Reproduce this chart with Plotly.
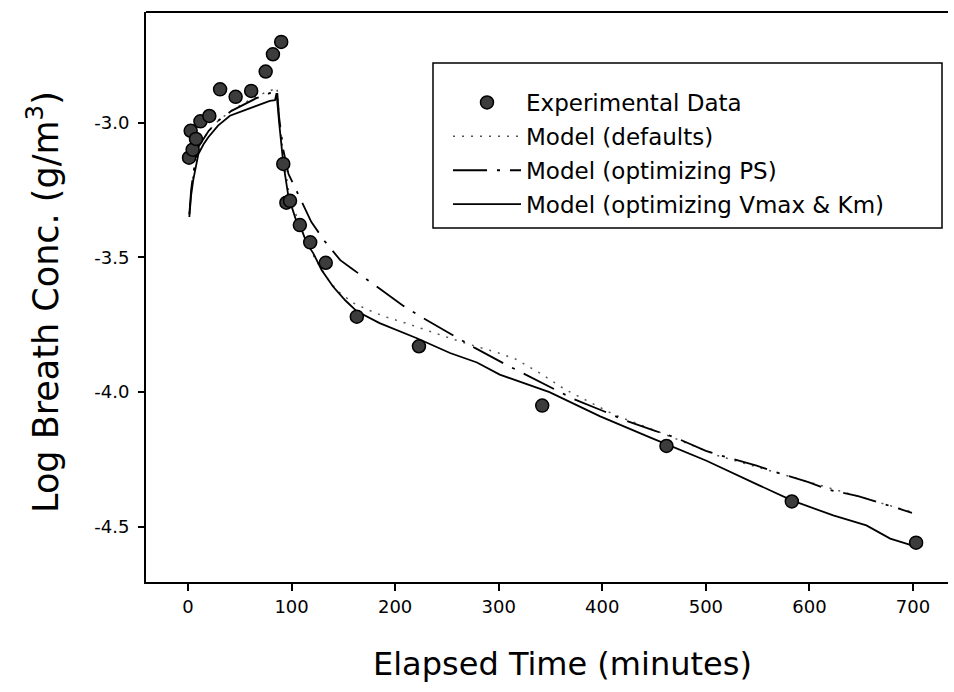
import plotly.graph_objects as go

# ---- data ----
exp_time = [1, 2.6, 4.5, 7.7, 12, 20.6, 31, 46, 61, 75, 82, 90, 92, 95, 98.5, 108, 118, 133,
            163, 223, 342, 462, 583, 703]
exp_conc = [-3.13, -3.03, -3.10, -3.06, -2.995, -2.975, -2.876, -2.904, -2.882, -2.81, -2.746, -2.70,
            -3.153, -3.297, -3.29, -3.38, -3.444, -3.52, -3.72, -3.83, -4.05, -4.20, -4.406, -4.559]

def_time = [1.3, 5, 10, 20, 30, 42, 55, 66, 76, 84, 86, 88, 92, 97, 105, 115, 125, 135, 145, 160,
            174, 190, 212, 240, 269, 297, 316, 340, 364, 412, 460, 510, 560, 610, 660, 699]
def_conc = [-3.34, -3.19, -3.09, -3.03, -2.99, -2.955, -2.925, -2.905, -2.885, -2.875, -2.87, -2.98,
            -3.12, -3.25, -3.35, -3.45, -3.52, -3.58, -3.627, -3.67, -3.695, -3.72, -3.746, -3.783,
            -3.82, -3.851, -3.877, -3.93, -3.99, -4.085, -4.156, -4.234, -4.29, -4.345, -4.40, -4.445]

ps_time = [1.3, 3, 5, 10, 20, 30, 42, 55, 66, 76, 82, 86, 88, 92, 97, 105, 119, 132, 147, 159, 179,
           208, 227, 256, 277, 305, 324, 354, 373, 402, 422, 451, 470, 500, 520, 549, 570, 599, 618,
           647, 668, 699]
ps_conc = [-3.34, -3.25, -3.19, -3.09, -3.03, -2.99, -2.956, -2.93, -2.909, -2.895, -2.885, -2.878,
           -2.98, -3.10, -3.19, -3.257, -3.368, -3.44, -3.51, -3.544, -3.60, -3.68, -3.725, -3.79,
           -3.836, -3.894, -3.932, -3.99, -4.027, -4.072, -4.105, -4.144, -4.168, -4.218, -4.242,
           -4.273, -4.30, -4.334, -4.362, -4.386, -4.41, -4.448]

vk_time = [1.3, 3, 5, 7.5, 10, 15, 19.6, 29, 40.5, 53, 66, 79, 84, 85.5, 88, 92, 97, 105, 110, 114.6,
           121, 129, 140, 152, 163, 185, 221, 253, 279, 301, 349, 398, 446, 462, 500.6, 552, 583, 623,
           655, 678, 699]
vk_conc = [-3.35, -3.27, -3.214, -3.16, -3.116, -3.08, -3.054, -3.011, -2.974, -2.956, -2.937, -2.919,
           -2.916, -2.89, -3.0, -3.15, -3.275, -3.37, -3.40, -3.447, -3.485, -3.547, -3.608, -3.66,
           -3.70, -3.744, -3.80, -3.855, -3.89, -3.935, -4.00, -4.09, -4.168, -4.193, -4.255, -4.347,
           -4.402, -4.458, -4.495, -4.544, -4.569]

x_ticks = [0, 100, 200, 300, 400, 500, 600, 700]
x_tick_labels = ["0", "100", "200", "300", "400", "500", "600", "700"]
y_ticks = [-3.0, -3.5, -4.0, -4.5]
y_tick_labels = ["-3.0", "-3.5", "-4.0", "-4.5"]

names = ["Experimental Data", "Model (defaults)", "Model (optimizing PS)",
         "Model (optimizing Vmax & Km)"]

FONT = "DejaVu Sans"

fig = go.Figure()
fig.add_trace(go.Scatter(x=def_time, y=def_conc, mode="lines", name=names[1], legendrank=2,
                         line=dict(color="#555555", width=1.5, dash="2px,7px"), legendgroup="b"))
fig.add_trace(go.Scatter(x=ps_time, y=ps_conc, mode="lines", name=names[2], legendrank=3,
                         line=dict(color="black", width=1.8, dash="34px,10px,3px,10px"), legendgroup="c"))
fig.add_trace(go.Scatter(x=vk_time, y=vk_conc, mode="lines", name=names[3], legendrank=4,
                         line=dict(color="black", width=1.8), legendgroup="d"))
fig.add_trace(go.Scatter(x=exp_time, y=exp_conc, mode="markers", name=names[0], legendrank=1,
                         marker=dict(size=13, color="#3c3c3c", line=dict(color="black", width=1.5)),
                         legendgroup="a"))

# plot area in pixels: left 146, right 948, top 12, bottom 582
W, H = 954, 692
L, R, T, B = 146, 948, 12, 582
def px(p):
    return (p - L) / (R - L)
def py(p):
    return (B - p) / (B - T)

fig.update_layout(
    width=W, height=H,
    margin=dict(l=L, r=W - R, t=T, b=H - B),
    paper_bgcolor="white", plot_bgcolor="white",
    font=dict(family=FONT, color="black"),
    showlegend=True,
    legend=dict(x=px(448), y=py(81), xanchor="left", yanchor="top",
                bgcolor="rgba(0,0,0,0)", borderwidth=0,
                font=dict(family=FONT, size=23, color="black"),
                traceorder="grouped", tracegroupgap=1, itemwidth=68),
    xaxis=dict(range=[-40.55, 733.8], tickvals=x_ticks, ticktext=x_tick_labels,
               showgrid=False, zeroline=False, showline=True, linecolor="black", linewidth=2,
               ticks="outside", ticklen=7, tickwidth=1.5, tickcolor="black",
               tickfont=dict(family=FONT, size=18)),
    yaxis=dict(range=[-4.705, -2.589], tickvals=y_ticks, ticktext=y_tick_labels,
               showgrid=False, zeroline=False, showline=True, linecolor="black", linewidth=2,
               ticks="outside", ticklen=6, tickwidth=1.5, tickcolor="black",
               tickfont=dict(family=FONT, size=18), ticklabelstandoff=5),
    shapes=[
        dict(type="line", xref="paper", yref="paper", x0=0, x1=1, y0=1, y1=1,
             line=dict(color="black", width=2)),
        dict(type="rect", xref="paper", yref="paper", x0=px(433), x1=px(942), y0=py(228), y1=py(63),
             line=dict(color="black", width=1.5)),
    ],
    annotations=[
        dict(text="Elapsed Time (minutes)", xref="paper", yref="paper", x=px(562), y=py(664),
             xanchor="center", yanchor="middle", showarrow=False,
             font=dict(family=FONT, size=32, color="black")),
        dict(text="Log Breath Conc. (g/m<sup>3</sup>)", xref="paper", yref="paper", x=px(43), y=py(302),
             xanchor="center", yanchor="middle", showarrow=False, textangle=-90,
             font=dict(family=FONT, size=35, color="black")),
    ],
)

fig.write_html("out.html")
